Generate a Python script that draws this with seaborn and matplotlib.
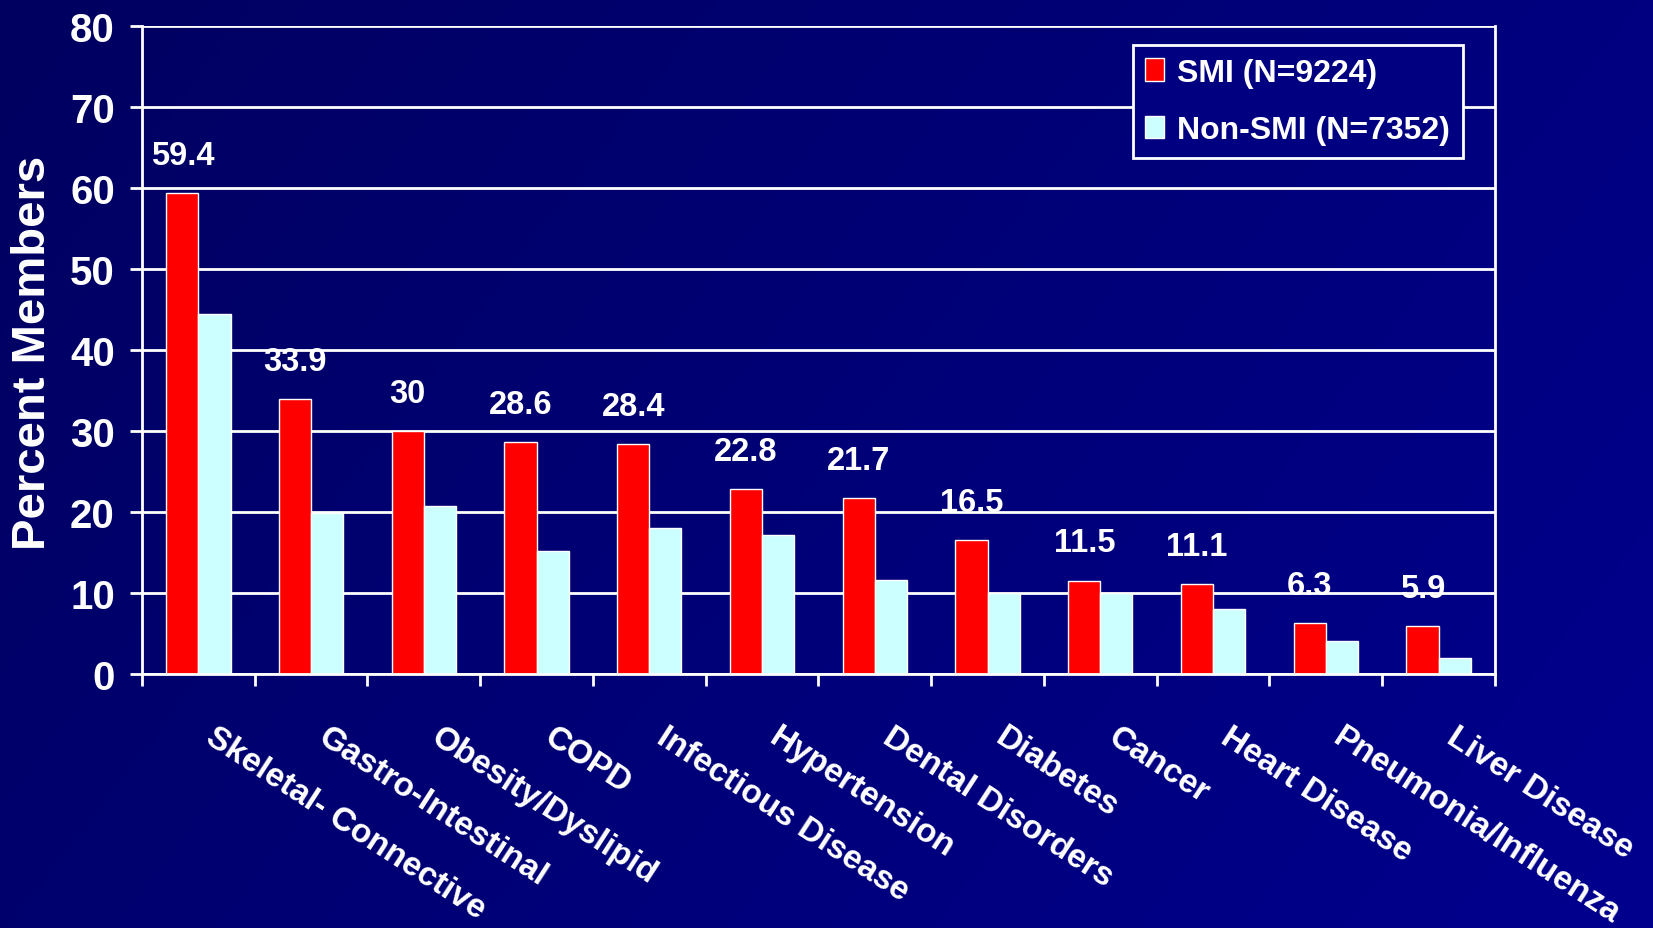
import numpy as np
import pandas as pd
import matplotlib
matplotlib.use("Agg")
import matplotlib.pyplot as plt
import matplotlib.transforms as mtransforms
import seaborn as sns

categories = ["Skeletal- Connective", "Gastro-Intestinal", "Obesity/Dyslipid", "COPD",
              "Infectious Disease", "Hypertension", "Dental Disorders", "Diabetes",
              "Cancer", "Heart Disease", "Pneumonia/Influenza", "Liver Disease"]
smi = [59.4, 33.9, 30, 28.6, 28.4, 22.8, 21.7, 16.5, 11.5, 11.1, 6.3, 5.9]
non_smi = [44.5, 19.9, 20.7, 15.2, 18.0, 17.1, 11.6, 10.0, 10.0, 8.0, 4.1, 1.9]
series_names = ["SMI (N=9224)", "Non-SMI (N=7352)"]
y_ticks = [0, 10, 20, 30, 40, 50, 60, 70, 80]
y_label = "Percent Members"

df = pd.DataFrame({
    "Condition": categories * 2,
    "Percent": smi + non_smi,
    "Group": [series_names[0]] * len(categories) + [series_names[1]] * len(categories),
})

sns.set_theme(style="white")
plt.rcParams["font.family"] = ["Liberation Sans", "DejaVu Sans"]
plt.rcParams["font.weight"] = "bold"

fig = plt.figure(figsize=(16.53, 9.29), dpi=100)

# gradient background
bg = fig.add_axes([0, 0, 1, 1], zorder=-10)
yy, xx = np.mgrid[0:1:300j, 0:1:300j]
t = 0.7 * xx + 0.3 * yy
img = np.zeros((300, 300, 3))
img[..., 2] = (96 + 46 * t) / 255.0
bg.imshow(img, aspect="auto", extent=[0, 1, 0, 1], origin="upper")
bg.set_axis_off()

ax = fig.add_axes([0.0859, 0.2737, 0.8185, 0.6968])
ax.set_facecolor("none")

sns.barplot(data=df, x="Condition", y="Percent", hue="Group",
            palette=["#FF0000", "#CCFFFF"], saturation=1, width=0.57,
            edgecolor="white", linewidth=1, ax=ax)

ax.set_ylim(0, 80)
ax.set_xlim(-0.5, len(categories) - 0.5)
ax.set_yticks(y_ticks)
ax.set_yticklabels([str(v) for v in y_ticks])
ax.yaxis.grid(True, color="white", lw=2)
ax.set_axisbelow(True)
for s in ["left", "right", "bottom"]:
    ax.spines[s].set_color("white")
    ax.spines[s].set_linewidth(2)
ax.spines["top"].set_visible(False)

ax.tick_params(axis="y", length=8.6, width=2, color="white", labelcolor="white",
               labelsize=29, pad=11, left=True)
ax.set_xticks(np.arange(-0.5, len(categories), 1), minor=True)
ax.tick_params(axis="x", which="minor", length=8.6, width=2, color="white", bottom=True)
ax.tick_params(axis="x", which="major", length=0, pad=34)
ax.set_xticks(range(len(categories)))
ax.set_xticklabels(categories, rotation=-33, ha="left", va="top",
                   rotation_mode="anchor", fontsize=24, color="white", fontweight="bold")
shift = mtransforms.ScaledTranslation(0.19, 0, fig.dpi_scale_trans)
for lbl in ax.get_xticklabels():
    lbl.set_transform(lbl.get_transform() + shift)
ax.set_xlabel("")
ax.set_ylabel("")

fig.text(33 / 1653, 1 - 353 / 929, y_label, rotation=90, ha="center", va="center",
         fontsize=34, color="white", fontweight="bold")

ax.bar_label(ax.containers[0], labels=[f"{v:g}" for v in smi], padding=16,
             fontsize=23.5, color="white", fontweight="bold")

handles, labels = ax.get_legend_handles_labels()
leg = ax.legend(handles, labels, loc="upper right", bbox_to_anchor=(0.9763, 0.9713),
                borderaxespad=0, frameon=True, fancybox=False, framealpha=1,
                facecolor="#000080", edgecolor="white", fontsize=23,
                handlelength=0.6, handleheight=0.7, handletextpad=0.4,
                labelspacing=0.85, borderpad=0.4)
leg.get_frame().set_linewidth(2)
for txt in leg.get_texts():
    txt.set_color("white")
    txt.set_fontweight("bold")

fig.savefig("out.png", dpi=100)
